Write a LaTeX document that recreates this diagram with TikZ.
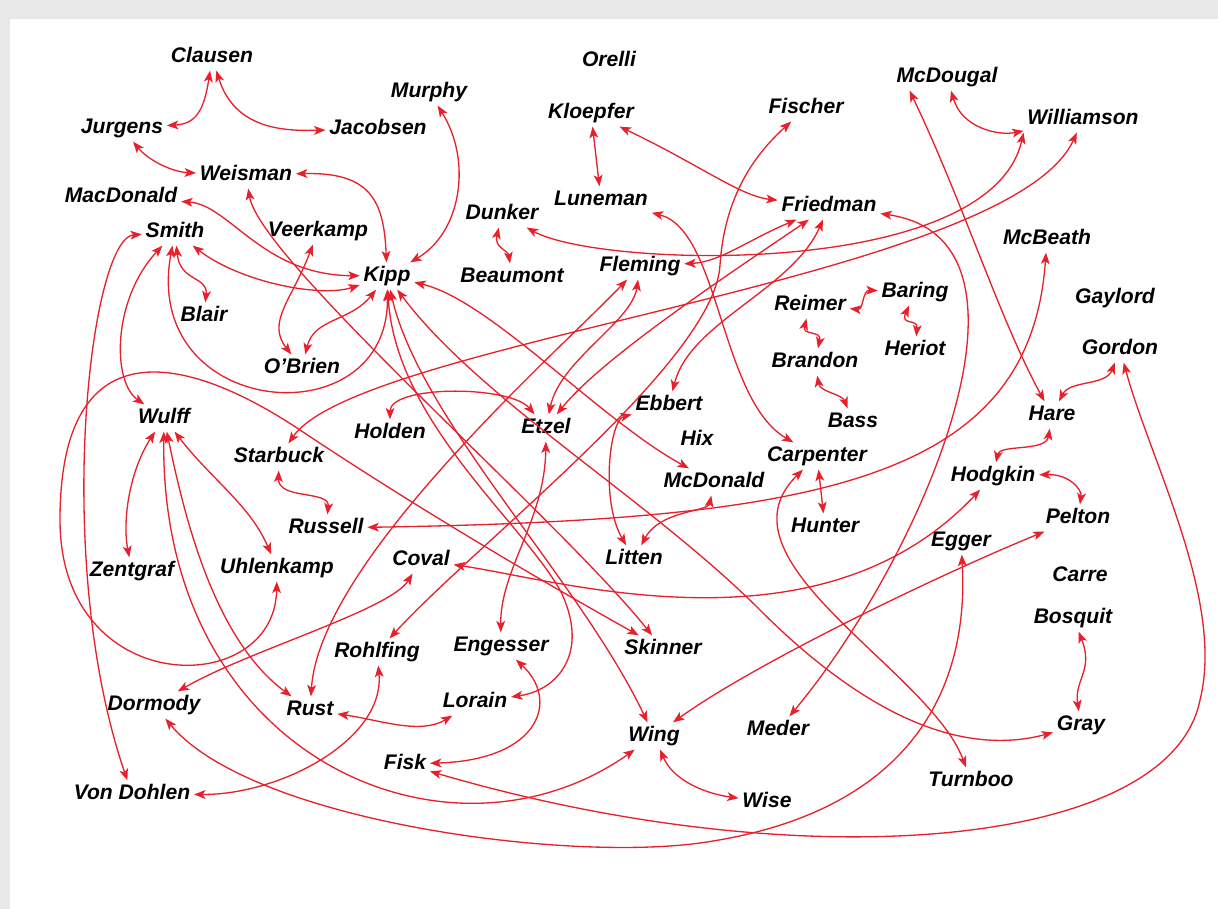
\documentclass[tikz,border=0pt]{standalone}
\usepackage{fontspec}
\setmainfont{Liberation Sans}
\usetikzlibrary{arrows.meta}
\definecolor{tiered}{HTML}{E8202C}
\tikzset{person/.style = {font=\fontsize{12}{14}\selectfont\bfseries\itshape,
                          inner sep=2pt, text height=8.6pt, text depth=2.5pt},
         tie/.style = {<->, >={Stealth[length=6.5pt,width=5pt,inset=1.6pt]},
                       draw=tiered, line width=0.75pt}}

\begin{document}
\begin{tikzpicture}[x=0.02cm, y=-0.02cm]
    \useasboundingbox (0,0) rectangle (1218,909);
    \fill[black!9] (0,0) rectangle (1218,909);
    \fill[white] (10,19) rectangle (1218,909);

    \node[person] (clausen) at (212,57) {Clausen};
    \node[person] (jurgens) at (122,128) {Jurgens};
    \node[person] (jacobsen) at (378,129) {Jacobsen};
    \node[person] (murphy) at (429,92) {Murphy};
    \node[person] (weisman) at (246,175) {Weisman};
    \node[person] (macdonald) at (121,197) {MacDonald};
    \node[person] (smith) at (175,232) {Smith};
    \node[person] (veerkamp) at (318,231) {Veerkamp};
    \node[person] (kipp) at (387,276) {Kipp};
    \node[person] (blair) at (204,316) {Blair};
    \node[person] (obrien) at (302,368) {O’Brien};
    \node[person] (orelli) at (609,61) {Orelli};
    \node[person] (kloepfer) at (591,113) {Kloepfer};
    \node[person] (fischer) at (806,108) {Fischer};
    \node[person] (luneman) at (601,200) {Luneman};
    \node[person] (dunker) at (502,214) {Dunker};
    \node[person] (beaumont) at (512,277) {Beaumont};
    \node[person] (fleming) at (640,266) {Fleming};
    \node[person] (friedman) at (829,206) {Friedman};
    \node[person] (mcdougal) at (947,77) {McDougal};
    \node[person] (williamson) at (1083,119) {Williamson};
    \node[person] (mcbeath) at (1047,239) {McBeath};
    \node[person] (reimer) at (810,305) {Reimer};
    \node[person] (baring) at (915,292) {Baring};
    \node[person] (gaylord) at (1115,298) {Gaylord};
    \node[person] (heriot) at (915,350) {Heriot};
    \node[person] (gordon) at (1120,349) {Gordon};
    \node[person] (brandon) at (815,362) {Brandon};
    \node[person] (bass) at (853,422) {Bass};
    \node[person] (hare) at (1052,415) {Hare};
    \node[person] (wulff) at (164,418) {Wulff};
    \node[person] (holden) at (390,433) {Holden};
    \node[person] (etzel) at (546,428) {Etzel};
    \node[person] (ebbert) at (669,405) {Ebbert};
    \node[person] (hix) at (697,440) {Hix};
    \node[person] (starbuck) at (279,457) {Starbuck};
    \node[person] (carpenter) at (817,456) {Carpenter};
    \node[person] (mcdonald) at (714,482) {McDonald};
    \node[person] (hodgkin) at (993,476) {Hodgkin};
    \node[person] (russell) at (326,528) {Russell};
    \node[person] (hunter) at (825,527) {Hunter};
    \node[person] (pelton) at (1078,518) {Pelton};
    \node[person] (egger) at (961,541) {Egger};
    \node[person] (coval) at (421,560) {Coval};
    \node[person] (litten) at (634,559) {Litten};
    \node[person] (zentgraf) at (132,571) {Zentgraf};
    \node[person] (uhlenkamp) at (277,568) {Uhlenkamp};
    \node[person] (carre) at (1080,576) {Carre};
    \node[person] (bosquit) at (1073,618) {Bosquit};
    \node[person] (rohlfing) at (377,652) {Rohlfing};
    \node[person] (engesser) at (501,646) {Engesser};
    \node[person] (skinner) at (663,649) {Skinner};
    \node[person] (dormody) at (154,705) {Dormody};
    \node[person] (rust) at (310,710) {Rust};
    \node[person] (lorain) at (475,702) {Lorain};
    \node[person] (wing) at (654,736) {Wing};
    \node[person] (meder) at (778,730) {Meder};
    \node[person] (gray) at (1081,725) {Gray};
    \node[person] (fisk) at (405,764) {Fisk};
    \node[person] (wise) at (767,802) {Wise};
    \node[person] (turnboo) at (971,781) {Turnboo};
    \node[person] (vondohlen) at (132,794) {Von Dohlen};

    \draw[tie] (clausen) .. controls (204,112) and (195,124) .. (jurgens);
    \draw[tie] (clausen) .. controls (235,130) and (285,131) .. (jacobsen);
    \draw[tie] (jurgens) .. controls (148,160) and (172,172) .. (weisman);
    \draw[tie] (weisman) .. controls (370,172) and (384,200) .. (kipp);
    \draw[tie] (murphy) .. controls (472,160) and (462,232) .. (kipp);
    \draw[tie] (macdonald) .. controls (230,205) and (262,275) .. (kipp);
    \draw[tie] (smith) .. controls (240,282) and (320,298) .. (kipp);
    \draw[tie] (smith) .. controls (140,420) and (390,440) .. (kipp);
    \draw[tie] (smith) .. controls (180,282) and (208,276) .. (blair);
    \draw[tie] (smith) .. controls (112,300) and (112,382) .. (wulff);
    \draw[tie] (smith) .. controls (90,238) and (52,560) .. (vondohlen);
    \draw[tie] (veerkamp) .. controls (292,300) and (266,322) .. (obrien);
    \draw[tie] (kipp) .. controls (350,322) and (314,318) .. (obrien);
    \draw[tie] (kloepfer) -- (luneman);
    \draw[tie] (kloepfer) .. controls (700,165) and (740,196) .. (friedman);
    \draw[tie] (mcdougal) .. controls (962,128) and (998,136) .. (williamson);
    \draw[tie] (mcdougal.200) .. controls (962,200) and (1000,320) .. (hare);
    \draw[tie] (dunker) .. controls (600,268) and (990,280) .. (williamson.south west);
    \draw[tie] (dunker) .. controls (494,248) and (508,250) .. (beaumont);
    \draw[tie] (williamson) .. controls (1010,280) and (360,340) .. (starbuck);
    \draw[tie] (fleming) .. controls (720,262) and (748,240) .. (friedman);
    \draw[tie] (fleming) .. controls (632,322) and (560,360) .. (etzel);
    \draw[tie] (friedman) .. controls (720,280) and (600,360) .. (etzel);
    \draw[tie] (friedman) .. controls (792,290) and (690,322) .. (ebbert);
    \draw[tie] (friedman) .. controls (1060,240) and (920,560) .. (meder);
    \draw[tie] (fischer) .. controls (760,150) and (725,190) .. (720,265)
        .. controls (715,360) and (480,540) .. (rohlfing);
    \draw[tie] (luneman) .. controls (720,230) and (720,400) .. (carpenter);
    \draw[tie] (reimer) .. controls (864,310) and (862,290) .. (baring);
    \draw[tie] (baring) .. controls (900,326) and (918,318) .. (heriot);
    \draw[tie] (reimer) .. controls (802,336) and (822,330) .. (brandon);
    \draw[tie] (brandon) .. controls (820,392) and (842,394) .. (bass);
    \draw[tie] (carpenter) -- (hunter);
    \draw[tie] (carpenter) .. controls (710,560) and (930,670) .. (turnboo);
    \draw[tie] (mcbeath) .. controls (1030,480) and (820,520) .. (russell);
    \draw[tie] (gordon) .. controls (1106,386) and (1070,380) .. (hare);
    \draw[tie] (gordon) .. controls (1150,460) and (1225,600) .. (1200,700)
        .. controls (1170,850) and (800,880) .. (fisk);
    \draw[tie] (hare) .. controls (1046,452) and (1000,444) .. (hodgkin);
    \draw[tie] (hodgkin) .. controls (1070,474) and (1082,490) .. (pelton);
    \draw[tie] (hodgkin) .. controls (820,660) and (560,580) .. (coval);
    \draw[tie] (pelton) .. controls (950,570) and (760,660) .. (wing);
    \draw[tie] (egger) .. controls (970,700) and (900,815) .. (700,843)
        .. controls (560,862) and (250,820) .. (dormody);
    \draw[tie] (bosquit) .. controls (1094,670) and (1074,680) .. (gray);
    \draw[tie] (wing) .. controls (674,782) and (708,794) .. (wise);
    \draw[tie] (wulff) .. controls (160,760) and (450,880) .. (wing);
    \draw[tie] (wulff) .. controls (185,520) and (215,640) .. (rust);
    \draw[tie] (wulff) .. controls (130,470) and (122,520) .. (zentgraf);
    \draw[tie] (wulff) .. controls (212,480) and (250,505) .. (uhlenkamp);
    \draw[tie] (uhlenkamp) .. controls (275,700) and (60,700) .. (60,520)
        .. controls (60,330) and (180,350) .. (300,430)
        .. controls (420,510) and (540,580) .. (skinner);
    \draw[tie] (weisman) .. controls (260,260) and (560,520) .. (skinner);
    \draw[tie] (kipp) .. controls (395,420) and (520,520) .. (560,590)
        .. controls (590,650) and (560,690) .. (lorain);
    \draw[tie] (kipp) .. controls (420,420) and (580,580) .. (wing);
    \draw[tie] (kipp) .. controls (480,400) and (650,500) .. (760,610)
        .. controls (850,700) and (950,760) .. (gray);
    \draw[tie] (kipp) .. controls (490,300) and (600,420) .. (mcdonald);
    \draw[tie] (holden) .. controls (390,385) and (510,385) .. (etzel);
    \draw[tie] (etzel) .. controls (545,520) and (500,570) .. (engesser);
    \draw[tie] (engesser) .. controls (560,700) and (540,760) .. (fisk);
    \draw[tie] (rust) .. controls (380,720) and (420,735) .. (lorain);
    \draw[tie] (fleming) .. controls (560,350) and (320,560) .. (rust);
    \draw[tie] (dormody) .. controls (250,650) and (390,610) .. (coval);
    \draw[tie] (rohlfing) .. controls (385,740) and (280,795) .. (vondohlen);
    \draw[tie] (starbuck) .. controls (278,500) and (330,490) .. (russell);
    \draw[tie] (ebbert) .. controls (610,420) and (600,500) .. (litten);
    \draw[tie] (mcdonald) .. controls (708,512) and (660,510) .. (litten);
\end{tikzpicture}
\end{document}
